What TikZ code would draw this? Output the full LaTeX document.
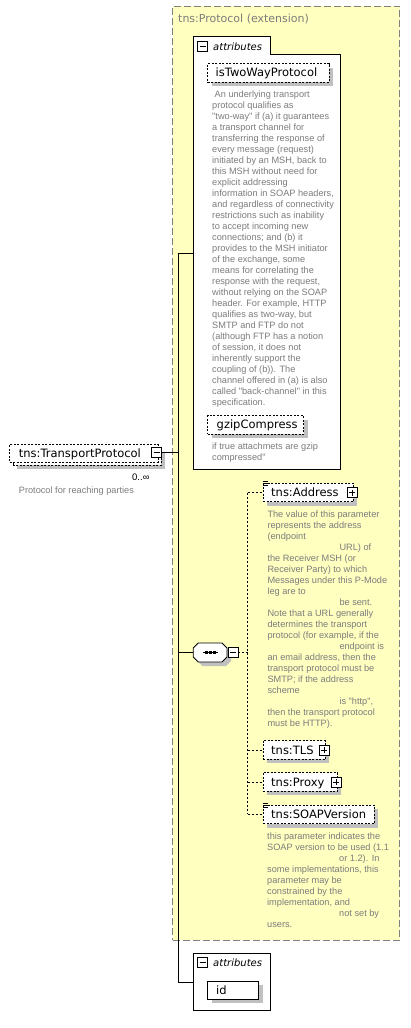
\documentclass[tikz,border=0pt]{standalone}
\usepackage{fontspec}
\setmainfont{DejaVu Sans}
\newfontfamily\descfont{Liberation Sans}
\usetikzlibrary{shadows}
\definecolor{ylw}{HTML}{FFFFC0}
\definecolor{txtgray}{HTML}{7C7C7C}
\definecolor{shd}{HTML}{C0C0C0}
\definecolor{bordergray}{HTML}{808080}
\newcommand\dline[1]{\hbox{#1}}
\newcommand\ind{\hspace*{72pt}}
\begin{document}
\begin{tikzpicture}[x=1pt,y=-1pt,
  ext/.style={draw=bordergray, fill=ylw, dash pattern=on 7pt off 3pt, line width=0.8pt, anchor=north west, inner sep=0pt},
  shad/.style={drop shadow={shadow xshift=4pt, shadow yshift=-4pt, fill=shd, opacity=1}},
  elem/.style={draw, fill=white, dash pattern=on 2pt off 1.5pt, line width=0.8pt, anchor=north west, inner sep=0pt, shad},
  elemns/.style={draw, fill=white, dash pattern=on 2pt off 1.5pt, line width=0.8pt, anchor=north west, inner sep=0pt},
  solidbox/.style={draw, fill=white, solid, line width=0.8pt, anchor=north west, inner sep=0pt, shad},
  attrbox/.style={draw, fill=white, solid, line width=0.8pt},
  lbl/.style={font=\fontsize{11.5}{13}\selectfont, text=black, inner sep=0pt, anchor=base west},
  attrlbl/.style={font=\fontsize{10}{12}\selectfont\itshape, inner sep=0pt, anchor=base west},
  title/.style={font=\fontsize{11}{13}\selectfont, text=txtgray, inner sep=0pt, anchor=base west},
  desc/.style={font=\descfont\fontsize{9.2}{11}\selectfont, text=txtgray, inner sep=0pt, anchor=base west},
  pm/.style={draw, fill=white, solid, line width=0.7pt, minimum size=10pt, inner sep=0pt},
  minus/.style={pm, path picture={\draw[line width=0.7pt] ([xshift=2pt]path picture bounding box.west) -- ([xshift=-2pt]path picture bounding box.east);}},
  plus/.style={pm, path picture={\draw[line width=0.7pt] ([xshift=2pt]path picture bounding box.west) -- ([xshift=-2pt]path picture bounding box.east) ([yshift=-2pt]path picture bounding box.north) -- ([yshift=2pt]path picture bounding box.south);}},
  conn/.style={draw, solid, line width=0.8pt},
  dconn/.style={draw, line width=0.8pt, dash pattern=on 2pt off 2pt},
  seqbox/.style={inner sep=0pt, minimum width=33.7pt, minimum height=19pt},
  menu/.style={line width=0.6pt, solid}
]
\useasboundingbox (0,0) rectangle (410,1028);

% extension box
\node[ext, minimum width=227pt, minimum height=934.3pt] (ext) at (172.3,5.7) {};
\node[title] (exttitle) at (178,22) {tns:Protocol (extension)};

% attributes group 1
\draw[attrbox] (193.3,36.3) -- (270,36.3) -- (270,54.3) -- (340.7,54.3) -- (340.7,469.3) -- (193.3,469.3) -- cycle;
\coordinate (a1w) at (193.3,253);
\node[minus] (a1m) at (202.5,46) {};
\node[attrlbl] (a1l) at (213,50) {attributes};

\node[elem, minimum width=121.4pt, minimum height=18.7pt] (tw) at (207.3,63.3) {};
\node[lbl] (twl) at (215.5,76.6) {isTwoWayProtocol};
\node[desc] (twd) at (212,97.5) {\vtop{%
\dline{\hspace*{2.5pt}An underlying transport}
\dline{protocol qualifies as}
\dline{"two-way" if (a) it guarantees}
\dline{a transport channel for}
\dline{transferring the response of}
\dline{every message (request)}
\dline{initiated by an MSH, back to}
\dline{this MSH without need for}
\dline{explicit addressing}
\dline{information in SOAP headers,}
\dline{and regardless of connectivity}
\dline{restrictions such as inability}
\dline{to accept incoming new}
\dline{connections; and (b) it}
\dline{provides to the MSH initiator}
\dline{of the exchange, some}
\dline{means for correlating the}
\dline{response with the request,}
\dline{without relying on the SOAP}
\dline{header. For example, HTTP}
\dline{qualifies as two-way, but}
\dline{SMTP and FTP do not}
\dline{(although FTP has a notion}
\dline{of session, it does not}
\dline{inherently support the}
\dline{coupling of (b)). The}
\dline{channel offered in (a) is also}
\dline{called "back-channel" in this}
\dline{specification.}}};

\node[elem, minimum width=96pt, minimum height=18.7pt] (gz) at (207.3,415.3) {};
\node[lbl] (gzl) at (216.5,428.6) {gzipCompress};
\node[desc] (gzd) at (212,449.5) {\vtop{%
\dline{if true attachmets are gzip}
\dline{compressed"}}};

% transport protocol element
\node[elem, minimum width=148.2pt, minimum height=17.7pt] (tpb) at (12.5,447.3) {};
\node[elemns, minimum width=148.2pt, minimum height=17.7pt] (tp) at (9.3,444) {};
\node[lbl] (tpl) at (18.7,457) {tns:TransportProtocol};
\node[minus] (tpm) at (156.7,452.5) {};
\node[desc, text=black, font=\descfont\fontsize{9.5}{11}\selectfont] (occ) at (132,480.5) {0..∞};
\node[desc] (tpd) at (18.7,493.8) {Protocol for reaching parties};

% sequence compositor
\node[seqbox] (seq) at (210.2,652.5) {};
\fill[shd, shift={(4,4)}] (198.3,643) -- (222,643) -- (227,648) -- (227,657) -- (222,662) -- (198.3,662) -- (193.3,657) -- (193.3,648) -- cycle;
\draw[fill=white, line width=0.8pt] (198.3,643) -- (222,643) -- (227,648) -- (227,657) -- (222,662) -- (198.3,662) -- (193.3,657) -- (193.3,648) -- cycle;
\draw[line width=0.8pt] (202.5,652.5) -- (218,652.5);
\foreach \dx in {206.3,210.3,214.3} \fill (\dx-1.5,651) rectangle (\dx+1.5,654);
\node[minus] (seqm) at (233,652.5) {};

% attributes group 2
\draw[attrbox] (193.3,953.3) rectangle (270.3,1010.3);
\coordinate (a2w) at (193.3,982.3);
\node[minus] (a2m) at (202.5,962.5) {};
\node[attrlbl] (a2l) at (213,966.5) {attributes};
\node[solidbox, minimum width=51pt, minimum height=18.3pt] (id) at (207.3,980.7) {};
\node[lbl] (idl) at (216,994.5) {id};

% trunk connectors
\coordinate (jt) at (178.3,253);
\coordinate (jb) at (178.3,982.3);
\draw[conn] (a1w) -- (jt) -- (jb) -- (a2w);
\draw[conn] (tpm.east) -- (tpm.east -| jt);
\draw[conn] (seq.west -| jt) -- (seq.west);

% children of sequence
\node[elem, anchor=west, minimum width=90.3pt, minimum height=18.7pt] (addr) at (262.7,492.5) {};
\node[lbl] (addrl) at (271,496.8) {tns:Address};
\node[plus] (addrp) at (352.3,492.5) {};
\draw[menu] (262.5,481.6) -- (268,481.6) (262.5,483.4) -- (268,483.4) (262.5,485.2) -- (268,485.2);
\node[desc] (addrd) at (267.3,517) {\vtop{%
\dline{The value of this parameter}
\dline{represents the address}
\dline{(endpoint}
\dline{\ind URL) of}
\dline{the Receiver MSH (or}
\dline{Receiver Party) to which}
\dline{Messages under this P-Mode}
\dline{leg are to}
\dline{\ind be sent.}
\dline{Note that a URL generally}
\dline{determines the transport}
\dline{protocol (for example, if the}
\dline{\ind endpoint is}
\dline{an email address, then the}
\dline{transport protocol must be}
\dline{SMTP; if the address}
\dline{scheme}
\dline{\ind is "http",}
\dline{then the transport protocol}
\dline{must be HTTP).}}};

\node[elem, anchor=west, minimum width=62.3pt, minimum height=18.7pt] (tls) at (262.7,750) {};
\node[lbl] (tlsl) at (271,754.3) {tns:TLS};
\node[plus] (tlsp) at (324.3,750) {};

\node[elem, anchor=west, minimum width=74.3pt, minimum height=18.7pt] (prox) at (262.7,782) {};
\node[lbl] (proxl) at (271,786.3) {tns:Proxy};
\node[plus] (proxp) at (336,782) {};

\node[elem, anchor=west, minimum width=111.3pt, minimum height=18.7pt] (soap) at (262.7,814.3) {};
\node[lbl] (soapl) at (271,818.6) {tns:SOAPVersion};
\draw[menu] (262.5,803.4) -- (268,803.4) (262.5,805.2) -- (268,805.2) (262.5,807) -- (268,807);
\node[desc] (soapd) at (267,839) {\vtop{%
\dline{this parameter indicates the}
\dline{SOAP version to be used (1.1}
\dline{\ind or 1.2). In}
\dline{some implementations, this}
\dline{parameter may be}
\dline{constrained by the}
\dline{implementation, and}
\dline{\ind not set by}
\dline{users.}}};

% sequence bus
\coordinate (bus) at (247.7,652.5);
\coordinate (bt) at (247.7,492.5);
\coordinate (bb) at (247.7,814.3);
\draw[dconn] (seqm.east) -- (bus);
\draw[dconn] (bt) -- (bb);
\draw[dconn] (bt) -- (addr.west);
\draw[dconn] (tls.west -| bt) -- (tls.west);
\draw[dconn] (prox.west -| bt) -- (prox.west);
\draw[dconn] (bb) -- (soap.west);
\end{tikzpicture}
\end{document}
